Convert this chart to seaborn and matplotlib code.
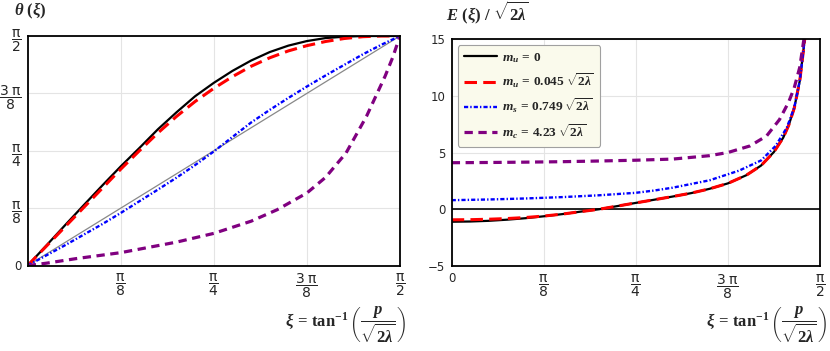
import numpy as np
import pandas as pd
import matplotlib
matplotlib.use("Agg")
import matplotlib.pyplot as plt
import seaborn as sns

# left panel: chiral angle, xi and theta both given as fractions of pi/2
xi_theta = [0, .05, .10, .15, .20, .25, .30, .35, .40, .45, .50, .55, .60, .65, .70, .75, .80, .85, .90, .95, 1.0]
theta_mu0 = [0, .087, .175, .262, .348, .432, .512, .594, .668, .738, .796, .848, .893, .930, .958, .978, .991, .997, 1.0, 1.0, 1.0]
theta_mu = [0, .084, .168, .252, .336, .420, .500, .578, .650, .715, .772, .823, .868, .905, .935, .958, .976, .989, .997, 1.0, 1.0]
theta_ms = [0, .044, .088, .134, .180, .229, .280, .331, .383, .438, .497, .560, .623, .678, .730, .780, .828, .874, .920, .962, 1.0]
xi_theta_mc = [0, .05, .13, .25, .40, .50, .60, .67, .75, .80, .855, .91, .96, .98, 1.0]
theta_mc = [0, .010, .030, .056, .102, .140, .193, .243, .316, .384, .490, .650, .825, .905, 1.0]
diag = [0, 1]

# right panel: E(xi)/sqrt(2 lambda)
xi_E = [0, .05, .10, .15, .20, .25, .30, .35, .40, .45, .50, .55, .60, .65, .70, .75, .80, .84, .875, .90, .915, .93, .945, .955, .962]
E_mu0 = [-1.10, -1.08, -1.02, -0.92, -0.79, -0.62, -0.43, -0.21, 0.00, 0.28, 0.56, 0.84, 1.12, 1.42, 1.80,
         2.28, 3.00, 3.85, 5.05, 6.30, 7.40, 8.90, 11.3, 14.0, 16.0]
E_mu = [-0.93, -0.92, -0.88, -0.82, -0.73, -0.60, -0.43, -0.21, 0.00, 0.28, 0.56, 0.84, 1.12, 1.42, 1.80,
        2.28, 3.00, 3.85, 5.05, 6.30, 7.40, 8.90, 11.3, 14.0, 16.0]
xi_E_ms = [0, .10, .20, .30, .40, .50, .55, .60, .70, .78, .84, .88, .91, .93, .945, .955, .962]
E_ms = [0.80, 0.86, 0.95, 1.07, 1.23, 1.45, 1.65, 1.90, 2.55, 3.40, 4.30, 5.60, 7.20, 8.95, 11.3, 14.0, 16.0]
xi_E_mc = [0, .10, .20, .30, .40, .50, .60, .70, .75, .81, .855, .89, .915, .93, .945, .955, .962]
E_mc = [4.10, 4.12, 4.15, 4.19, 4.25, 4.32, 4.42, 4.72, 5.00, 5.58, 6.46, 7.90, 9.45, 10.7, 12.5, 14.7, 16.0]

labels = [r"$m_u\,=\,0$", r"$m_u\,=\,0.045\;\sqrt{2\lambda}$",
          r"$m_s\,=\,0.749\;\sqrt{2\lambda}$", r"$m_c\,=\,4.23\;\sqrt{2\lambda}$"]

pi_ticks = [r"$\dfrac{\mathrm{\pi}}{8}$", r"$\dfrac{\mathrm{\pi}}{4}$",
            r"$\dfrac{3\;\mathrm{\pi}}{8}$", r"$\dfrac{\mathrm{\pi}}{2}$"]

sns.set_style("white")
plt.rcParams["font.family"] = ["DejaVu Sans"]
plt.rcParams["mathtext.fontset"] = "custom"
plt.rcParams["mathtext.rm"] = "Liberation Serif:bold"
plt.rcParams["mathtext.it"] = "Liberation Serif:italic:bold"
plt.rcParams["mathtext.bf"] = "Liberation Serif:bold"
plt.rcParams["lines.scale_dashes"] = False

styles = [
    dict(color="black", lw=1.6, ls="-"),
    dict(color="#ff0000", lw=2.2, ls=(0, (9, 4.5))),
    dict(color="#0000ff", lw=1.7, ls=(0, (3, 1.5, 1, 1.5))),
    dict(color="#800080", lw=2.3, ls=(0, (6, 4))),
]

fig = plt.figure(figsize=(8.3, 3.51), dpi=100)
ax1 = fig.add_axes([27.7 / 830, 1 - 265.5 / 351, (400 - 27.7) / 830, (265.5 - 36) / 351])
ax2 = fig.add_axes([451.7 / 830, 1 - 266 / 351, (820 - 451.7) / 830, (266 - 39) / 351])

# left panel
sns.lineplot(x=diag, y=diag, ax=ax1, color="#888888", lw=0.9, estimator=None, sort=False)
sns.lineplot(x=xi_theta, y=theta_mu0, ax=ax1, estimator=None, sort=False, **styles[0])
sns.lineplot(x=xi_theta, y=theta_mu, ax=ax1, estimator=None, sort=False, **styles[1])
sns.lineplot(x=xi_theta, y=theta_ms, ax=ax1, estimator=None, sort=False, **styles[2])
sns.lineplot(x=xi_theta_mc, y=theta_mc, ax=ax1, estimator=None, sort=False, **styles[3])
ax1.set_xlim(0, 1)
ax1.set_ylim(0, 1)

# right panel
ax2.axhline(0, color="black", lw=1.2)
sns.lineplot(x=xi_E, y=E_mu0, ax=ax2, estimator=None, sort=False, label=labels[0], **styles[0])
sns.lineplot(x=xi_E, y=E_mu, ax=ax2, estimator=None, sort=False, label=labels[1], **styles[1])
sns.lineplot(x=xi_E_ms, y=E_ms, ax=ax2, estimator=None, sort=False, label=labels[2], **styles[2])
sns.lineplot(x=xi_E_mc, y=E_mc, ax=ax2, estimator=None, sort=False, label=labels[3], **styles[3])
ax2.set_xlim(0, 1)
ax2.set_ylim(-5, 15)

for ax in (ax1, ax2):
    ax.grid(True, color="#e4e4e4", lw=0.8)
    ax.set_axisbelow(True)
    for s in ax.spines.values():
        s.set_color("black")
        s.set_linewidth(1.3)
    ax.tick_params(direction="out", length=3, width=0.8, pad=1.5, color="black")
    ax.set_xlabel("")
    ax.set_ylabel("")

frac_kw = dict(math_fontfamily="dejavusans", fontsize=10)
ax1.set_xticks([0.25, 0.5, 0.75, 1.0], pi_ticks, **frac_kw)
ax1.set_yticks([0, 0.25, 0.5, 0.75, 1.0], ["0"] + pi_ticks, **frac_kw)
ax2.set_xticks([0, 0.25, 0.5, 0.75, 1.0], ["0"] + pi_ticks, **frac_kw)
ax2.set_yticks([-5, 0, 5, 10, 15], ["\u22125", "0", "5", "10", "15"], fontsize=8.5)
ax1.get_yticklabels()[0].set_fontsize(8.5)
ax2.get_xticklabels()[0].set_fontsize(8.5)

handles, _ = ax2.get_legend_handles_labels()
leg = ax2.legend(handles, labels, loc="upper left", fontsize=9.6, frameon=True, fancybox=True,
                 facecolor="#fafaec", edgecolor="#a0a0a0", framealpha=1, handlelength=2.5,
                 handletextpad=0.4, labelspacing=0.5, borderaxespad=0.45, borderpad=0.45)
leg.get_frame().set_linewidth(0.8)

fig.text(14 / 830, 1 - 11 / 351, r"$\theta\ (\xi)$", fontsize=12, ha="left", va="center")
fig.text(446 / 830, 1 - 13 / 351, r"$E\ (\xi)\ /\ \sqrt{2\lambda}$", fontsize=12, ha="left", va="center")
xlab = r"$\xi\,=\,\tan^{-1}\left(\dfrac{p}{\sqrt{2\lambda}}\right)$"
fig.text(406 / 830, 1 - 325 / 351, xlab, fontsize=12, ha="right", va="center")
fig.text(827 / 830, 1 - 325 / 351, xlab, fontsize=12, ha="right", va="center")

fig.savefig("out.png", dpi=100)
